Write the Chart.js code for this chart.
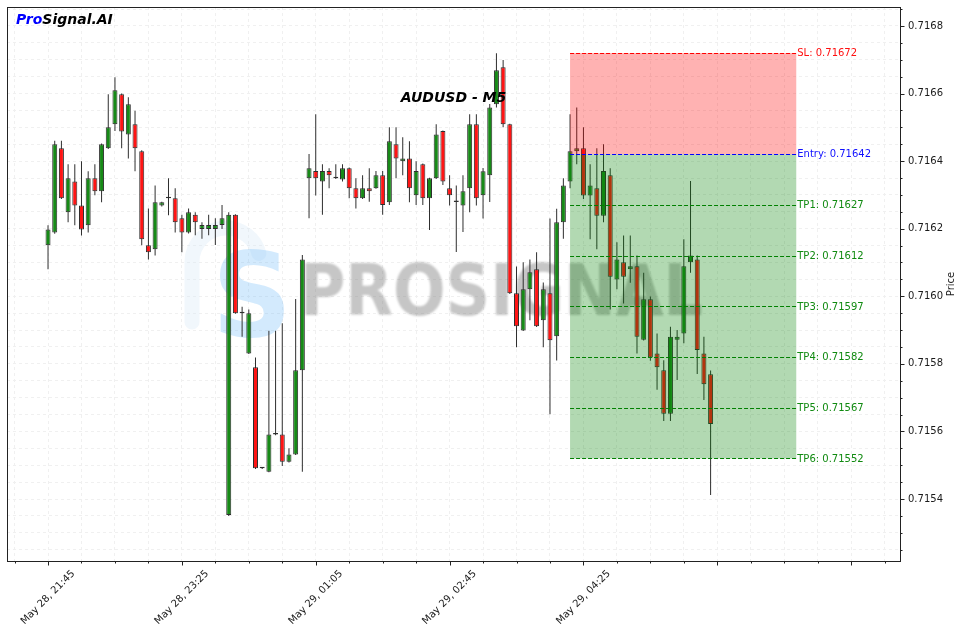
<!DOCTYPE html>
<html><head><meta charset="utf-8">
<script src="https://cdn.jsdelivr.net/npm/chart.js@4.4.0/dist/chart.umd.min.js"></script>
<style>html,body{margin:0;padding:0;background:#fff;}canvas{display:block;}</style>
</head><body>
<canvas id="c" width="963" height="633"></canvas>
<script>
// ---- data ----
const opens = [0.716151,0.716189,0.716438,0.716249,0.716340,0.716269,0.716210,0.716349,0.716311,0.716438,
0.716509,0.716598,0.716479,0.716509,0.716429,0.716151,0.716139,0.716269,0.716290,0.716290,
0.716231,0.716189,0.716241,0.716199,0.716199,0.716199,0.716211,0.715353,0.716241,0.715950,
0.715831,0.715790,0.715491,0.715481,0.715591,0.715591,0.715510,0.715532,0.715781,0.716349,
0.716371,0.716340,0.716371,0.716349,0.716346,0.716379,0.716320,0.716290,0.716320,0.716320,
0.716358,0.716278,0.716450,0.716400,0.716408,0.716299,0.716391,0.716290,0.716349,0.716489,
0.716320,0.716279,0.716269,0.716320,0.716509,0.716299,0.716358,0.716568,0.716678,0.716509,
0.716009,0.715899,0.716021,0.716080,0.715929,0.716009,0.715882,0.716219,0.716340,0.716429,
0.716438,0.716298,0.716320,0.716238,0.716358,0.716050,0.716101,0.716080,0.716089,0.715871,
0.715991,0.715831,0.715781,0.715652,0.715871,0.715890,0.716101,0.716109,0.715831,0.715769];
const highs = [0.716210,0.716460,0.716460,0.716391,0.716391,0.716400,0.716370,0.716391,0.716452,0.716598,
0.716648,0.716600,0.716589,0.716549,0.716432,0.716260,0.716328,0.716280,0.716349,0.716320,
0.716241,0.716260,0.716249,0.716219,0.716241,0.716231,0.716270,0.716249,0.716243,0.715969,
0.715961,0.715819,0.715492,0.715898,0.715898,0.715920,0.715550,0.715992,0.716122,0.716421,
0.716539,0.716391,0.716379,0.716391,0.716391,0.716381,0.716349,0.716358,0.716379,0.716371,
0.716371,0.716500,0.716500,0.716471,0.716459,0.716400,0.716393,0.716351,0.716509,0.716491,
0.716358,0.716328,0.716358,0.716539,0.716539,0.716380,0.716569,0.716719,0.716699,0.716511,
0.716088,0.716101,0.716109,0.716130,0.716041,0.716230,0.716259,0.716349,0.716539,0.716559,
0.716500,0.716391,0.716438,0.716450,0.716379,0.716160,0.716180,0.716180,0.716121,0.716070,
0.715999,0.715890,0.715811,0.715910,0.715900,0.716169,0.716341,0.716121,0.715880,0.715780];
const lows = [0.716080,0.716185,0.716288,0.716219,0.716210,0.716180,0.716189,0.716299,0.716278,0.716436,
0.716489,0.716438,0.716408,0.716370,0.716151,0.716109,0.716121,0.716266,0.716240,0.716189,
0.716130,0.716186,0.716181,0.716170,0.716181,0.716152,0.716199,0.715350,0.715948,0.715880,
0.715829,0.715489,0.715489,0.715479,0.715589,0.715498,0.715508,0.715530,0.715481,0.716231,
0.716298,0.716241,0.716320,0.716347,0.716340,0.716290,0.716260,0.716288,0.716280,0.716318,
0.716241,0.716270,0.716349,0.716358,0.716278,0.716270,0.716270,0.716196,0.716347,0.716329,
0.716269,0.716131,0.716190,0.716249,0.716269,0.716230,0.716279,0.716559,0.716500,0.716007,
0.715849,0.715897,0.715929,0.715909,0.715849,0.715651,0.715810,0.716170,0.716320,0.716391,
0.716288,0.716169,0.716139,0.716219,0.715961,0.716021,0.715979,0.716040,0.715831,0.715869,
0.715809,0.715723,0.715631,0.715631,0.715752,0.715861,0.716070,0.715770,0.715693,0.715412];
const closes = [0.716198,0.716450,0.716290,0.716349,0.716269,0.716198,0.716349,0.716311,0.716450,0.716500,
0.716610,0.716488,0.716568,0.716438,0.716169,0.716130,0.716278,0.716278,0.716290,0.716219,
0.716189,0.716249,0.716219,0.716211,0.716211,0.716211,0.716231,0.716241,0.715950,0.715950,
0.715950,0.715491,0.715491,0.715591,0.715591,0.715510,0.715532,0.715781,0.716109,0.716379,
0.716349,0.716371,0.716358,0.716349,0.716379,0.716320,0.716290,0.716320,0.716311,0.716358,
0.716270,0.716459,0.716408,0.716408,0.716320,0.716371,0.716290,0.716349,0.716479,0.716340,
0.716299,0.716279,0.716311,0.716509,0.716290,0.716370,0.716559,0.716669,0.716509,0.716009,
0.715911,0.716021,0.716071,0.715911,0.716021,0.715870,0.716219,0.716328,0.716429,0.716438,
0.716298,0.716328,0.716238,0.716371,0.716058,0.716109,0.716058,0.716089,0.715880,0.715991,
0.715819,0.715790,0.715652,0.715880,0.715880,0.716089,0.716121,0.715841,0.715740,0.715622];

const xTickIndex = [0, 20, 40, 60, 80];
const xTickLabels = ['May 28, 21:45', 'May 28, 23:25', 'May 29, 01:05', 'May 29, 02:45', 'May 29, 04:25'];
const xMajorTicks = [0, 20, 40, 60, 80, 100, 120];
const yMajorTicks = [0.7154, 0.7156, 0.7158, 0.7160, 0.7162, 0.7164, 0.7166, 0.7168];
const levelNames = ['SL', 'Entry', 'TP1', 'TP2', 'TP3', 'TP4', 'TP5', 'TP6'];
const levelValues = [0.71672, 0.71642, 0.71627, 0.71612, 0.71597, 0.71582, 0.71567, 0.71552];
const chartTitle = 'AUDUSD - M5';
const zoneStart = 78, zoneEnd = 111.8;

// ---- view / style ----
const X_MIN = -6.13, X_MAX = 127.3, Y_MIN = 0.7152165, Y_MAX = 0.7168562;
const GREEN = '#178a17', RED = '#ff1414', EDGE = '#2e2e2e';
const FONT = '"DejaVu Sans", sans-serif';
Chart.defaults.font.family = FONT;

const idx = opens.map((_, i) => i);
const bodies = idx.map(i => ({ x: i, y: [opens[i], closes[i]] }));
const wicks = idx.map(i => ({ x: i, y: [lows[i], highs[i]] }));
const bodyColors = idx.map(i => closes[i] >= opens[i] ? GREEN : RED);

function levelColor(k) { return k === 0 ? '#ff0000' : (k === 1 ? '#0000ff' : '#008000'); }
function levelTextColor(k) { return k === 0 ? '#ff1010' : (k === 1 ? '#1010ff' : '#108a10'); }

const deco = {
  id: 'deco',
  beforeDatasetsDraw(chart) {
    const { ctx, chartArea: a } = chart;
    const sx = a.width / 893, sy = a.height / 554;
    const px = X => a.left + (X - 7) * sx, py = Y => a.top + (Y - 7) * sy;
    ctx.save();
    ctx.beginPath(); ctx.rect(a.left, a.top, a.width, a.height); ctx.clip();
    // faint logo outline
    ctx.strokeStyle = 'rgba(215,232,247,0.35)';
    ctx.lineWidth = 15; ctx.lineCap = 'round';
    ctx.beginPath();
    ctx.moveTo(px(192), py(322));
    ctx.lineTo(px(192), py(262));
    ctx.arc(px(226), py(262), 34 * sx, Math.PI, 1.92 * Math.PI);
    ctx.stroke();
    // light blue S
    ctx.font = 'bold 118px ' + FONT;
    ctx.fillStyle = 'rgba(110,185,250,0.30)';
    ctx.textBaseline = 'alphabetic'; ctx.textAlign = 'left';
    ctx.fillText('S', px(212), py(336), 80 * sx);
    // watermark text
    ctx.filter = 'blur(1px)';
    ctx.font = 'bold 72px ' + FONT;
    ctx.fillStyle = 'rgba(120,120,120,0.42)';
    ctx.fillText('PROSIGNAL', px(300), py(315), 403 * sx);
    ctx.filter = 'none';
    ctx.restore();
  },
  afterDatasetsDraw(chart) {
    const { ctx, chartArea: a, scales: { x: xs, y: ys } } = chart;
    const x1 = xs.getPixelForValue(zoneStart), x2 = xs.getPixelForValue(zoneEnd);
    const yv = levelValues.map(v => ys.getPixelForValue(v));
    ctx.save();
    ctx.fillStyle = 'rgba(255,0,0,0.3)';
    ctx.fillRect(x1, yv[0], x2 - x1, yv[1] - yv[0]);
    ctx.fillStyle = 'rgba(0,128,0,0.3)';
    ctx.fillRect(x1, yv[1], x2 - x1, yv[yv.length - 1] - yv[1]);
    ctx.setLineDash([4, 2]);
    ctx.lineWidth = 1;
    levelValues.forEach((v, k) => {
      const y = Math.round(yv[k]) + 0.5;
      ctx.strokeStyle = levelColor(k);
      ctx.beginPath(); ctx.moveTo(x1, y); ctx.lineTo(x2, y); ctx.stroke();
    });
    ctx.setLineDash([]);
    ctx.font = '10px ' + FONT;
    ctx.textAlign = 'left'; ctx.textBaseline = 'middle';
    levelValues.forEach((v, k) => {
      ctx.fillStyle = levelTextColor(k);
      ctx.fillText(levelNames[k] + ': ' + v.toFixed(5), x2 + 1, yv[k] + 0.5);
    });
    ctx.restore();
  },
  afterDraw(chart) {
    const { ctx, chartArea: a, scales: { x: xs, y: ys } } = chart;
    ctx.save();
    // frame
    ctx.strokeStyle = '#222'; ctx.lineWidth = 1;
    ctx.strokeRect(Math.round(a.left) + 0.5, Math.round(a.top) + 0.5,
      Math.round(a.right) - Math.round(a.left), Math.round(a.bottom) - Math.round(a.top));
    // x ticks
    ctx.beginPath();
    for (let v = -5; v <= X_MAX; v += 5) {
      if (v < X_MIN) continue;
      const p = Math.round(xs.getPixelForValue(v)) + 0.5;
      const len = xMajorTicks.includes(v) ? 4 : 2;
      ctx.moveTo(p, a.bottom + 0.5); ctx.lineTo(p, a.bottom + 0.5 + len);
    }
    // y ticks
    for (let k = Math.ceil(Y_MIN / 0.00005); k * 0.00005 <= Y_MAX; k++) {
      const v = k * 0.00005;
      const p = Math.round(ys.getPixelForValue(v)) + 0.5;
      const major = yMajorTicks.some(t => Math.abs(t - v) < 1e-9);
      ctx.moveTo(a.right + 0.5, p); ctx.lineTo(a.right + 0.5 + (major ? 4 : 2), p);
    }
    ctx.stroke();
    // x tick labels (rotated 45, centred on tick)
    ctx.fillStyle = '#1a1a1a';
    ctx.font = '10px ' + FONT;
    xTickIndex.forEach((v, k) => {
      const p = xs.getPixelForValue(v);
      const txt = xTickLabels[k];
      const w = ctx.measureText(txt).width, h = 11.6;
      const bb = (w + h) * Math.SQRT1_2;
      ctx.save();
      ctx.translate(p, a.bottom + 7 + bb / 2);
      ctx.rotate(-Math.PI / 4);
      ctx.textAlign = 'center'; ctx.textBaseline = 'middle';
      ctx.fillText(txt, 0, 0);
      ctx.restore();
    });
    // y axis title
    ctx.save();
    ctx.translate(951, (a.top + a.bottom) / 2);
    ctx.rotate(-Math.PI / 2);
    ctx.textAlign = 'center'; ctx.textBaseline = 'middle';
    ctx.fillText('Price', 0, 0);
    ctx.restore();
    // title
    ctx.font = 'italic bold 14px ' + FONT;
    ctx.fillStyle = '#000';
    ctx.textAlign = 'center'; ctx.textBaseline = 'alphabetic';
    ctx.fillText(chartTitle, (a.left + a.right) / 2, a.top + (102 - 7) * a.height / 554);
    // brand
    ctx.textAlign = 'left';
    const bx = a.left + 9, by = a.top + 17;
    ctx.fillStyle = '#0000ff';
    ctx.fillText('Pro', bx, by);
    const w1 = ctx.measureText('Pro').width;
    ctx.fillStyle = '#000';
    ctx.fillText('Signal.AI', bx + w1, by);
    ctx.restore();
  }
};

new Chart(document.getElementById('c'), {
  type: 'bar',
  data: {
    datasets: [
      { label: 'body', data: bodies, backgroundColor: bodyColors, borderColor: EDGE, borderWidth: 1,
        borderSkipped: false, barThickness: 5, minBarLength: 1.5, grouped: false, inflateAmount: 0, order: 0 },
      { label: 'wick', data: wicks, backgroundColor: EDGE, borderWidth: 0,
        borderSkipped: false, barThickness: 1, grouped: false, inflateAmount: 0, order: 1 }
    ]
  },
  options: {
    responsive: false,
    animation: false,
    devicePixelRatio: 1,
    layout: { padding: { left: 7, top: 7, right: 0, bottom: 0 } },
    plugins: { legend: { display: false }, tooltip: { enabled: false }, title: { display: false } },
    scales: {
      x: {
        type: 'linear', min: X_MIN, max: X_MAX, bounds: 'data', offset: false,
        grid: { offset: false, color: '#f0f0f0', lineWidth: 1, drawTicks: false },
        border: { display: false, dash: [3, 3] },
        ticks: { display: false },
        afterBuildTicks: s => {
          const t = [];
          for (let v = -5; v <= X_MAX; v += 5) if (v >= X_MIN) t.push({ value: v });
          s.ticks = t;
        },
        afterFit: s => { s.height = 72; s.paddingLeft = 0; s.paddingRight = 0; }
      },
      y: {
        type: 'linear', position: 'right', min: Y_MIN, max: Y_MAX, bounds: 'data', beginAtZero: false,
        grid: { color: '#f0f0f0', lineWidth: 1, drawTicks: false },
        border: { display: false, dash: [3, 3] },
        ticks: {
          autoSkip: false, padding: 8, color: '#1a1a1a', font: { size: 10 },
          callback: v => yMajorTicks.some(t => Math.abs(t - v) < 1e-9) ? v.toFixed(4) : ''
        },
        afterBuildTicks: s => {
          const t = [];
          for (let k = Math.ceil(Y_MIN / 0.00005); k * 0.00005 <= Y_MAX; k++) t.push({ value: k * 0.00005 });
          s.ticks = t;
        },
        afterFit: s => { s.width = 63; s.paddingTop = 0; s.paddingBottom = 0; }
      }
    }
  },
  plugins: [deco]
});
</script>
</body></html>
